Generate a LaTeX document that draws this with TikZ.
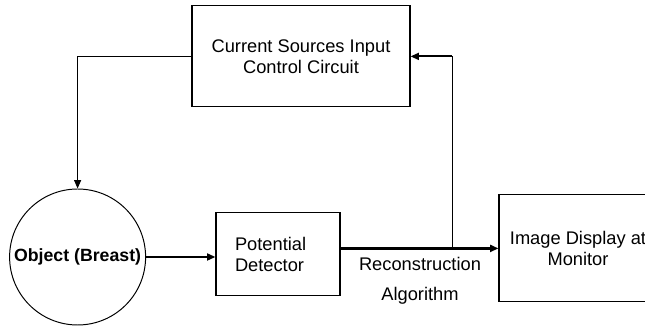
\documentclass[tikz,border=0pt]{standalone}
\usepackage{fontspec}
\setmainfont{Liberation Sans}
\usetikzlibrary{arrows.meta}

\begin{document}
\begin{tikzpicture}[
	font=\fontsize{13}{15}\selectfont,
	box/.style={draw, line width=0.8pt, inner sep=0pt},
	thinline/.style={line width=0.7pt},
	heavy/.style={line width=1.3pt},
	heavier/.style={line width=1.8pt},
	arr/.style={-{Triangle[length=6pt,width=5pt]}}
]
	\useasboundingbox (0,0) rectangle (16.125,8.2);
	% blocks
	\node[box, minimum width=5.45cm, minimum height=2.525cm, align=center] (ctrl) at (7.525,6.79) {Current Sources Input\\Control Circuit};
	\node[draw, circle, line width=0.7pt, minimum size=3.4cm, inner sep=0pt, font=\fontsize{12.6}{15}\selectfont\bfseries] (obj) at (1.94,1.775) {Object (Breast)};
	\node[box, minimum width=3.1cm, minimum height=2.075cm, text width=2.15cm, align=left] (det) at (6.95,1.84) {Potential\\Detector};
	\node[box, minimum width=3.95cm, minimum height=2.675cm, align=center] (disp) at (14.45,1.99) {Image Display at\\Monitor};
	\node (rec) at (10.5,1.6) {Reconstruction};
	\node (alg) at (10.5,0.8) {Algorithm};
	\coordinate (tap) at (11.3,1.99);
	% connections
	\draw[thinline, arr] (ctrl.west) -| (obj.north);
	\draw[heavy, arr] (obj.east) -- (obj.east -| det.west);
	\draw[heavier, arr] (det.east |- disp.west) -- (disp.west);
	\draw[thinline] (tap) -- (tap |- ctrl.east);
	\draw[heavy, arr] (tap |- ctrl.east) -- (ctrl.east);
\end{tikzpicture}
\end{document}
